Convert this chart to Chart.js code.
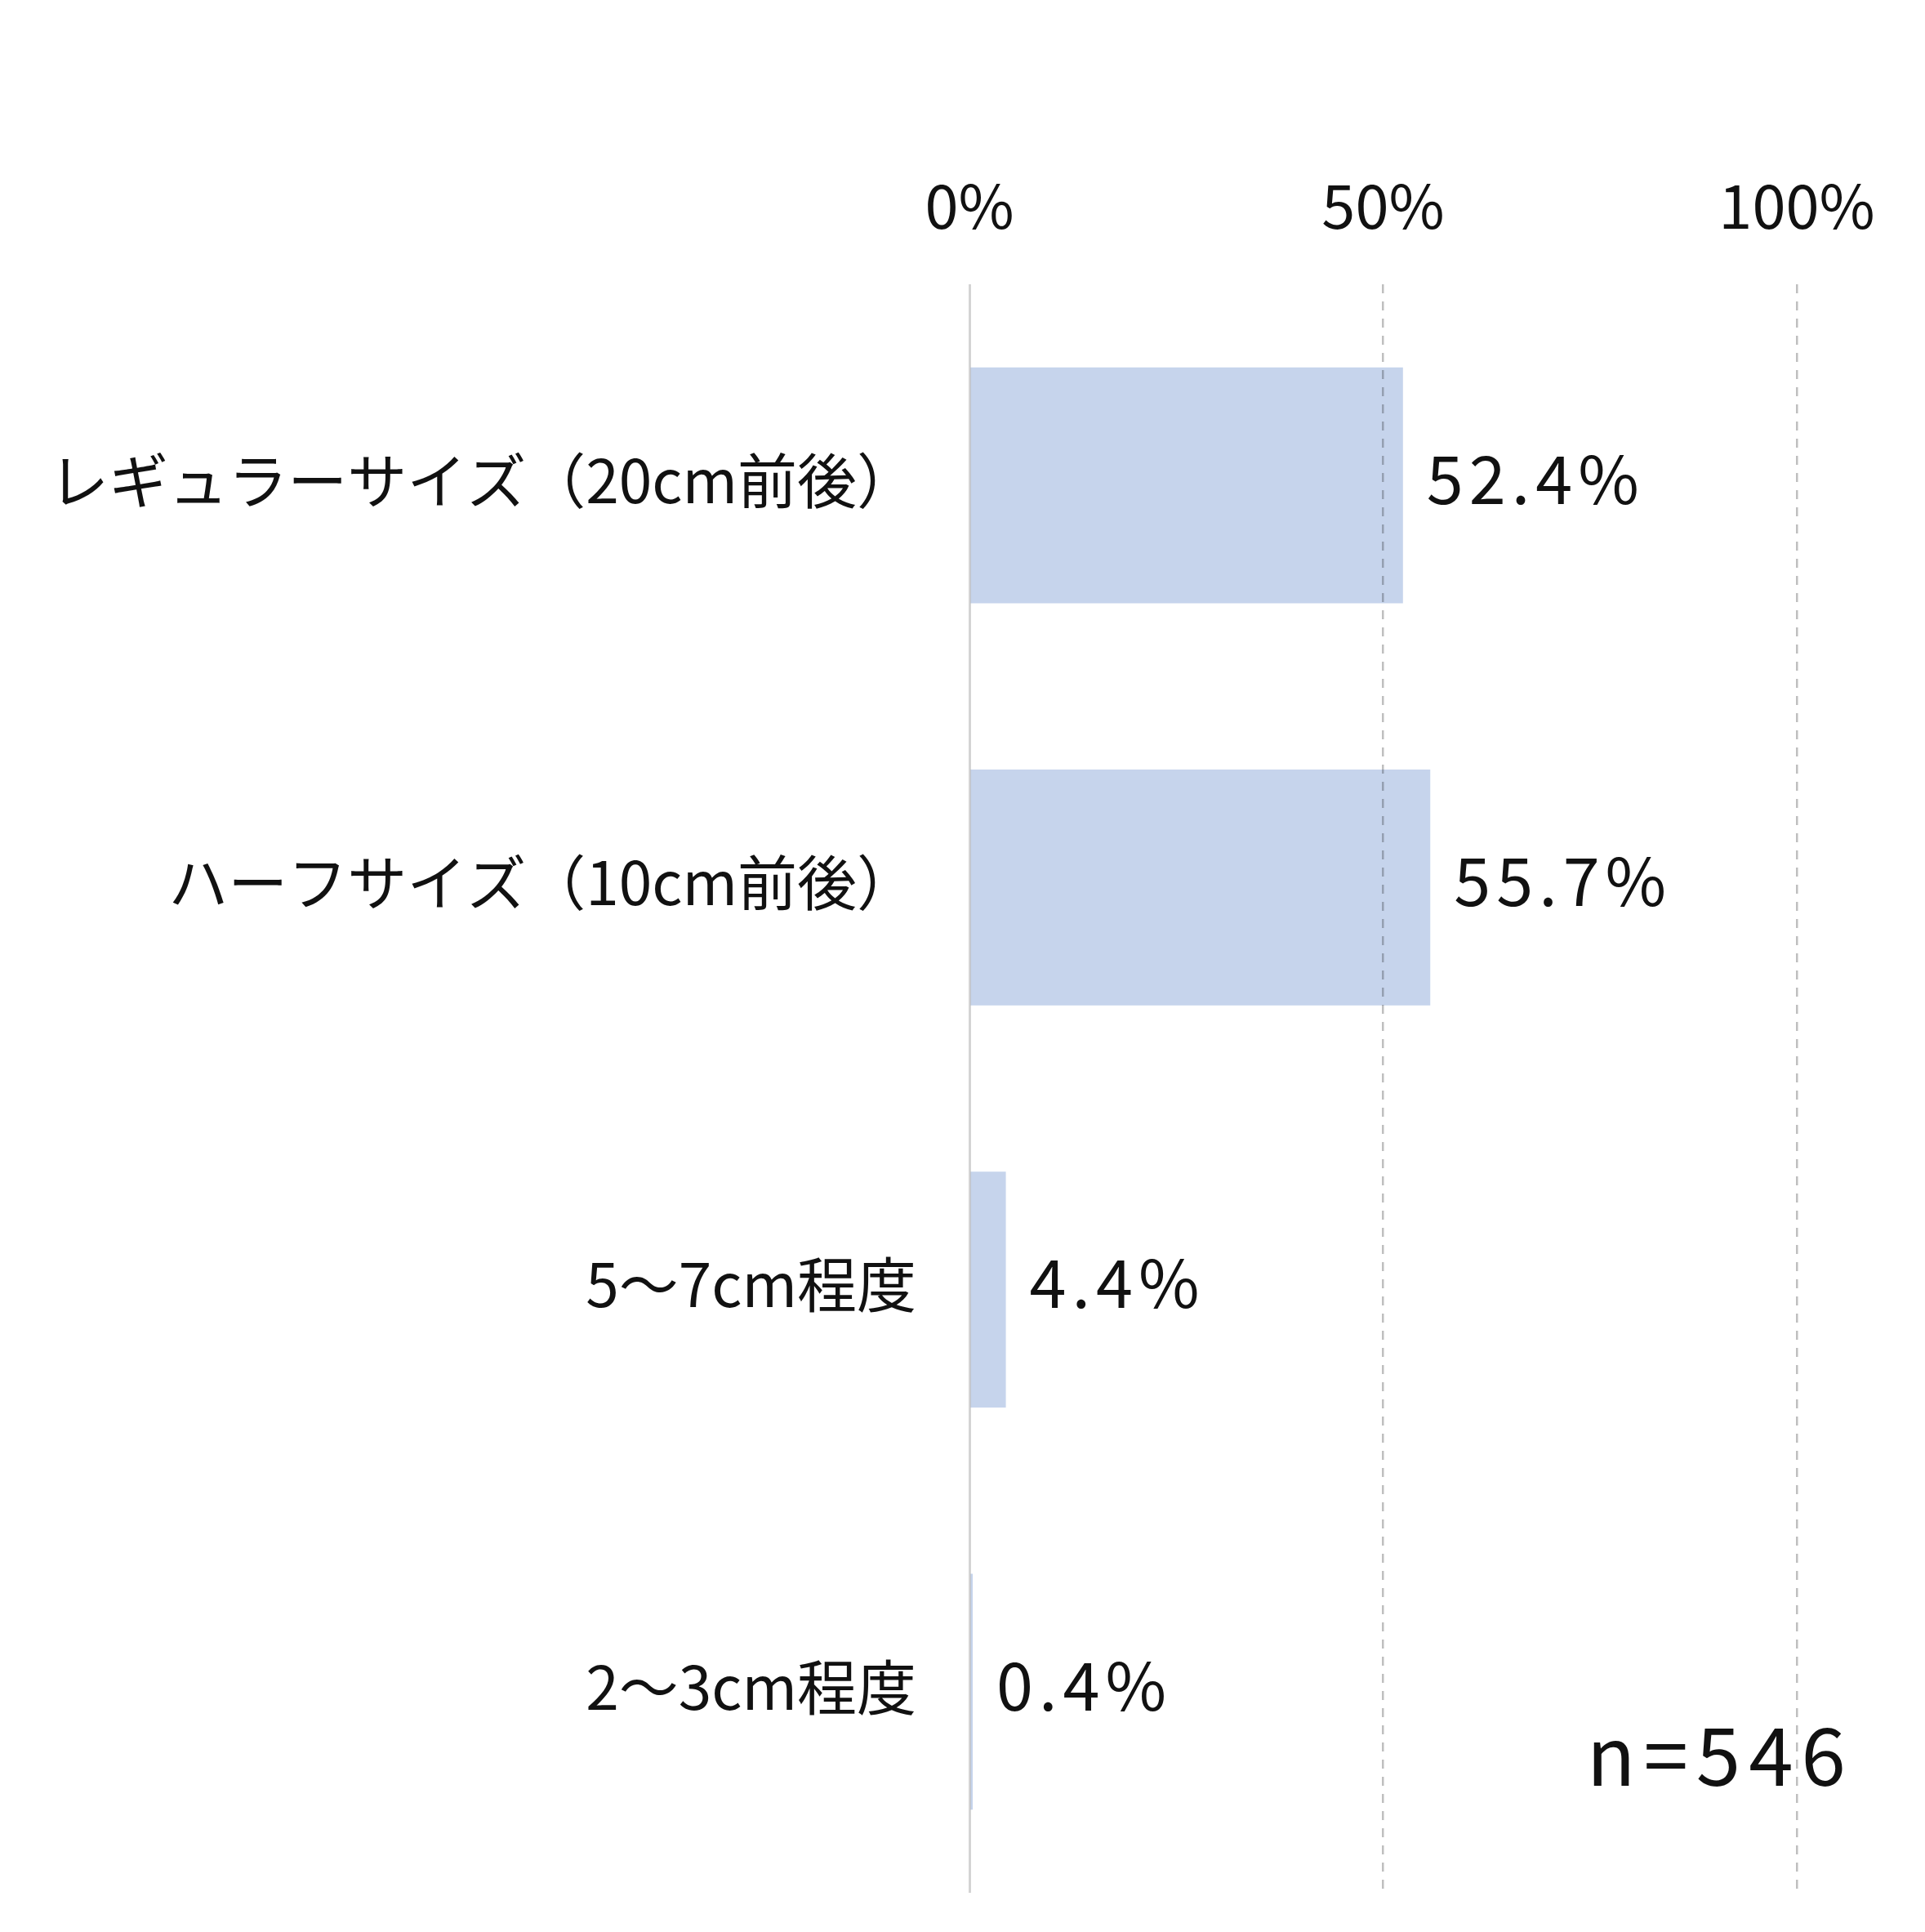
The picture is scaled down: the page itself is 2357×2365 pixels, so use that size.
<!DOCTYPE html>
<html>
<head>
<meta charset="utf-8">
<script src="https://cdn.jsdelivr.net/npm/chart.js@4/dist/chart.umd.min.js"></script>
<style>
  html, body { margin: 0; padding: 0; background: #ffffff; }
  #wrap { width: 2357px; height: 2365px; }
</style>
</head>
<body>
<div id="wrap"><canvas id="c" width="2357" height="2365"></canvas></div>
<script>
const categories = ['レギュラーサイズ（20cm前後）', 'ハーフサイズ（10cm前後）', '5～7cm程度', '2～3cm程度'];
const values = [52.4, 55.7, 4.4, 0.4];
const tickValues = [0, 50, 100];
const sampleNote = 'n=546';

const FONT = '"Noto Sans CJK JP", "Noto Sans", sans-serif';

const valueLabels = {
  id: 'valueLabels',
  afterDraw(chart) {
    const ctx = chart.ctx;
    const meta = chart.getDatasetMeta(0);
    ctx.save();
    ctx.fillStyle = '#111111';
    ctx.font = '400 81px ' + FONT;
    ctx.letterSpacing = '7px';
    ctx.textAlign = 'left';
    ctx.textBaseline = 'middle';
    meta.data.forEach((bar, i) => {
      ctx.fillText(values[i].toFixed(1) + '%', bar.x + 29, bar.y - 8);
    });
    const area = chart.chartArea;
    ctx.font = '400 98px ' + FONT;
    ctx.letterSpacing = '10px';
    ctx.textAlign = 'right';
    ctx.fillText(sampleNote, area.right + 70, area.bottom - 168);
    ctx.restore();
  }
};

new Chart(document.getElementById('c'), {
  type: 'bar',
  data: {
    labels: categories,
    datasets: [{
      data: values,
      backgroundColor: '#C6D4EC',
      borderWidth: 0,
      categoryPercentage: 1,
      barPercentage: 0.587
    }]
  },
  options: {
    indexAxis: 'y',
    responsive: false,
    animation: false,
    devicePixelRatio: 1,
    layout: { padding: { left: 0, right: 157, top: 0, bottom: 48 } },
    plugins: { legend: { display: false }, tooltip: { enabled: false } },
    scales: {
      x: {
        position: 'top',
        min: 0,
        max: 100,
        afterFit(scale) { scale.height = 348; scale.paddingLeft = 0; scale.paddingRight = 0; },
        afterBuildTicks(scale) { scale.ticks = tickValues.map(v => ({ value: v })); },
        ticks: {
          stepSize: 50,
          padding: 52,
          color: '#111111',
          font: { family: FONT, size: 74 },
          callback: v => v + '%'
        },
        grid: {
          drawTicks: false,
          z: 1,
          color: ctx => (ctx.tick && ctx.tick.value === 0) ? 'rgba(0,0,0,0.17)' : 'rgba(0,0,0,0.25)',
          lineWidth: ctx => (ctx.tick && ctx.tick.value === 0) ? 3 : 2.5
        },
        border: {
          display: false,
          dash: ctx => (ctx.tick && ctx.tick.value === 0) ? [] : [11, 10]
        }
      },
      y: {
        afterFit(scale) { scale.width = 1187; scale.paddingTop = 0; scale.paddingBottom = 0; },
        ticks: {
          padding: 65,
          labelOffset: -6,
          color: '#111111',
          font: { family: FONT, size: 73 }
        },
        grid: { display: false, drawTicks: false },
        border: { display: false }
      }
    }
  },
  plugins: [valueLabels]
});
</script>
</body>
</html>
